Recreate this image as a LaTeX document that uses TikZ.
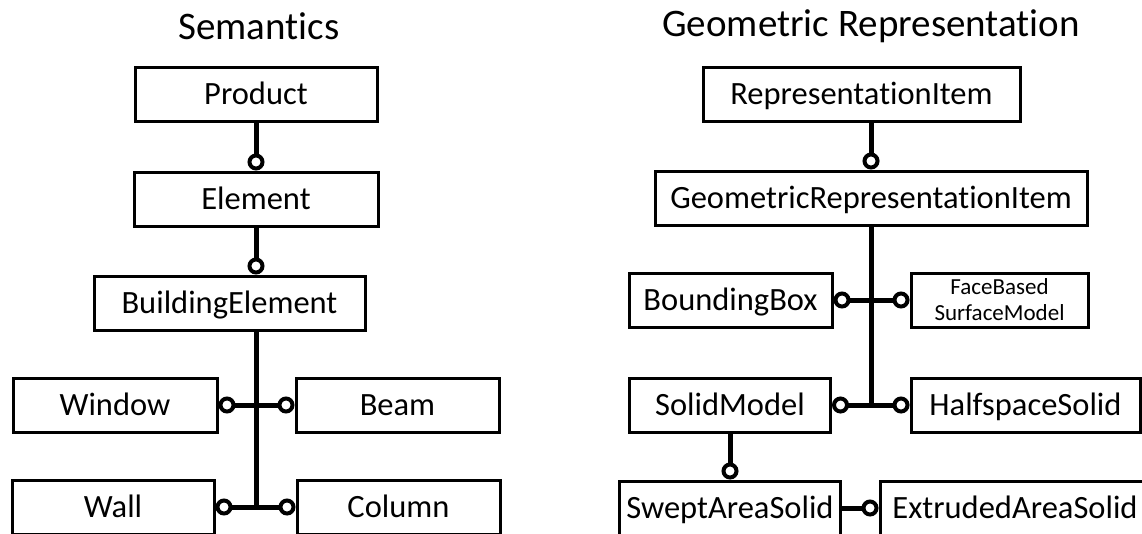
\documentclass[tikz,border=0pt]{standalone}
\usepackage{fontspec}
\setmainfont{Carlito}[Ligatures = NoCommon]
\usetikzlibrary{positioning}
\usetikzlibrary{calc}
\usetikzlibrary{arrows.meta}

\begin{document}
\begin{tikzpicture}
	[
		x = 1pt, y = -1pt,
		ring/.tip = {Circle[open, length = 17pt, width = 17pt, line width = 4pt]},
		entitybox/.style = {rectangle, draw = black, line width = 3pt, fill = white, minimum height = 54pt, inner sep = 0pt},
		entity/.style = {entitybox, text height = 27pt, text depth = 7pt, font = \fontsize{32.5}{36}\selectfont},
		smallentity/.style = {entitybox, align = center, font = \fontsize{23}{26}\selectfont},
		title/.style = {font = \fontsize{39}{44}\selectfont},
		link/.style = {line width = 5pt},
	]
	%
	\useasboundingbox (0,0) rectangle (1142,533);
	\clip (0,0) rectangle (1142,533);
	%
	% Semantics
	\node (semtitle) [title] at (259, 26) {Semantics};
	\node (product) [entity, minimum width = 242pt] at (256, 94.5) {Product};
	\node (element) [entity, minimum width = 244pt] at (256, 199) {Element};
	\node (building) [entity, minimum width = 271pt] at (229.5, 303) {BuildingElement};
	\node (window) [entity, minimum width = 204pt] at (115, 405) {Window};
	\node (beam) [entity, minimum width = 203pt] at (397.5, 405) {Beam};
	\node (wall) [entity, minimum width = 202pt] at (113, 507) {Wall};
	\node (column) [entity, minimum width = 203pt] at (398.5, 507) {Column};
	%
	\coordinate (semjoint) at (256, 507);
	%
	\draw [link, -ring] (product) -- (element);
	\draw [link, -ring] (element) -- (element |- building.north);
	\draw [link] (building.south -| element) -- (semjoint);
	\draw [link, ring-ring] (window) -- (beam);
	\draw [link, ring-ring] (wall) -- (column);
	%
	% Geometric Representation
	\node (geotitle) [title] at (871, 26) {Geometric Representation};
	\node (repitem) [entity, minimum width = 317pt] at (861.5, 94.5) {RepresentationItem};
	\node (georep) [entity, minimum width = 432pt] at (871, 198) {GeometricRepresentationItem};
	\node (bbox) [entity, minimum width = 203pt] at (730.5, 300) {BoundingBox};
	\node (facebased) [smallentity, minimum width = 177pt] at (999.5, 300) {FaceBased\\SurfaceModel};
	\node (solid) [entity, minimum width = 201pt] at (730, 405) {SolidModel};
	\node (halfspace) [entity, minimum width = 229pt] at (1025.5, 405) {HalfspaceSolid};
	\node (swept) [entity, minimum width = 221pt] at (730, 508) {SweptAreaSolid};
	\node (extruded) [entity, minimum width = 270pt] at (1015, 508) {ExtrudedAreaSolid};
	%
	\coordinate (geojoint) at (871, 405);
	%
	\draw [link, -ring] (repitem.south -| georep) -- (georep);
	\draw [link] (georep) -- (geojoint);
	\draw [link, ring-ring] (bbox) -- (facebased);
	\draw [link, ring-ring] (solid) -- (halfspace);
	\draw [link, -ring] (solid) -- (swept);
	\draw [link, -ring] (swept) -- (extruded);
	%
\end{tikzpicture}
\end{document}
